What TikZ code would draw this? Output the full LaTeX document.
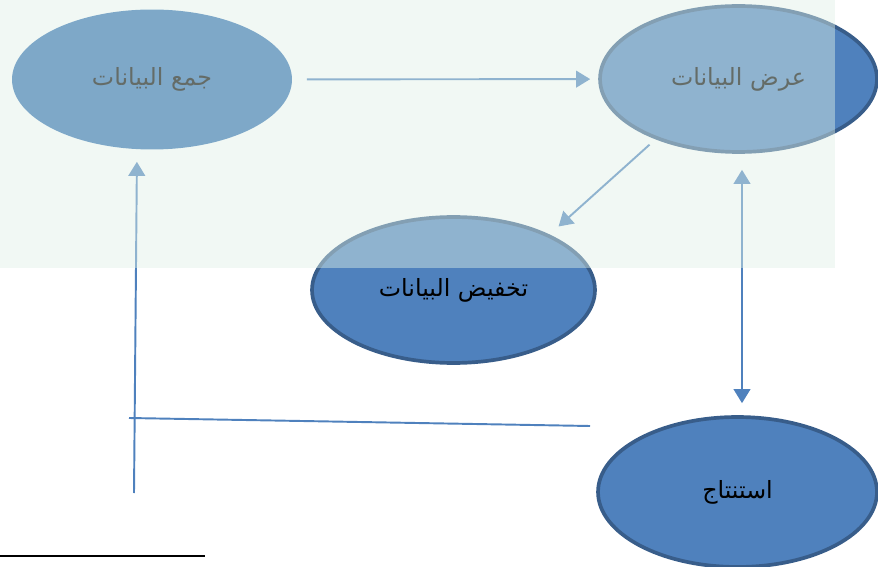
\documentclass[tikz,border=0pt]{standalone}
\usepackage{fontspec}
\usetikzlibrary{shapes.geometric,arrows.meta}
\TeXXeTstate=1
\newfontfamily\arabicfont[Script=Arabic]{DejaVu Sans}
\definecolor{stagefill}{HTML}{4F81BD}
\definecolor{stageline}{HTML}{385D8A}
\definecolor{gatherfill}{HTML}{306DB1}
\definecolor{veil}{HTML}{DFF0E6}
\tikzset{
  stage/.style={ellipse, fill=stagefill, draw=stageline, line width=2.1pt, inner sep=0pt,
    font=\arabicfont\fontsize{13.5}{16}\selectfont},
  flow/.style={draw=stagefill, line width=1.1pt, -{Triangle[width=9.5pt,length=8pt]}},
  twoway/.style={draw=stagefill, line width=1.1pt, {Triangle[width=9.5pt,length=8pt]}-{Triangle[width=9.5pt,length=8pt]}},
  back/.style={draw=stagefill, line width=1.1pt},
}

\begin{document}
\begin{tikzpicture}[x=0.02cm, y=-0.02cm]
  \useasboundingbox (0,0) rectangle (878,567);
  % the four stages
  \node[stage, draw=none, fill=gatherfill, minimum width=5.6cm, minimum height=2.8cm] (gather) at (152,79.5) {\beginR جمع البيانات\endR};
  \node[stage, minimum width=5.54cm, minimum height=2.92cm] (show) at (738.5,79) {\beginR عرض البيانات\endR};
  \node[stage, minimum width=5.66cm, minimum height=2.92cm] (reduce) at (453.5,290) {\beginR تخفيض البيانات\endR};
  \node[stage, minimum width=5.58cm, minimum height=3cm] (conclude) at (737.5,492) {\beginR استنتاج\endR};

  % arrows between stages
  \draw[flow, shorten <=0.26cm, shorten >=0.16cm] (gather) -- (show);
  \draw[flow, shorten <=0.16cm, shorten >=0.24cm] (show.216) -- (reduce.30);
  \draw[twoway, shorten <=0.32cm, shorten >=0.24cm] ([xshift=0.07cm]show.south) -- ([xshift=0.09cm]conclude.north);

  % loose lines on the left
  \coordinate (loopfoot) at (134,493);
  \coordinate (backleft) at (129,418);
  \coordinate (backright) at (590,426);
  \draw[flow, shorten >=0.21cm] (loopfoot) -- ([xshift=-0.3cm]gather.south);
  \draw[back] (backleft) -- (backright);

  % pale veil over the top part
  \fill[veil, opacity=0.45] (0,0) rectangle (835,268);

  % footnote rule
  \draw[black, line width=1.2pt] (0,556) -- (205,556);
\end{tikzpicture}
\end{document}
